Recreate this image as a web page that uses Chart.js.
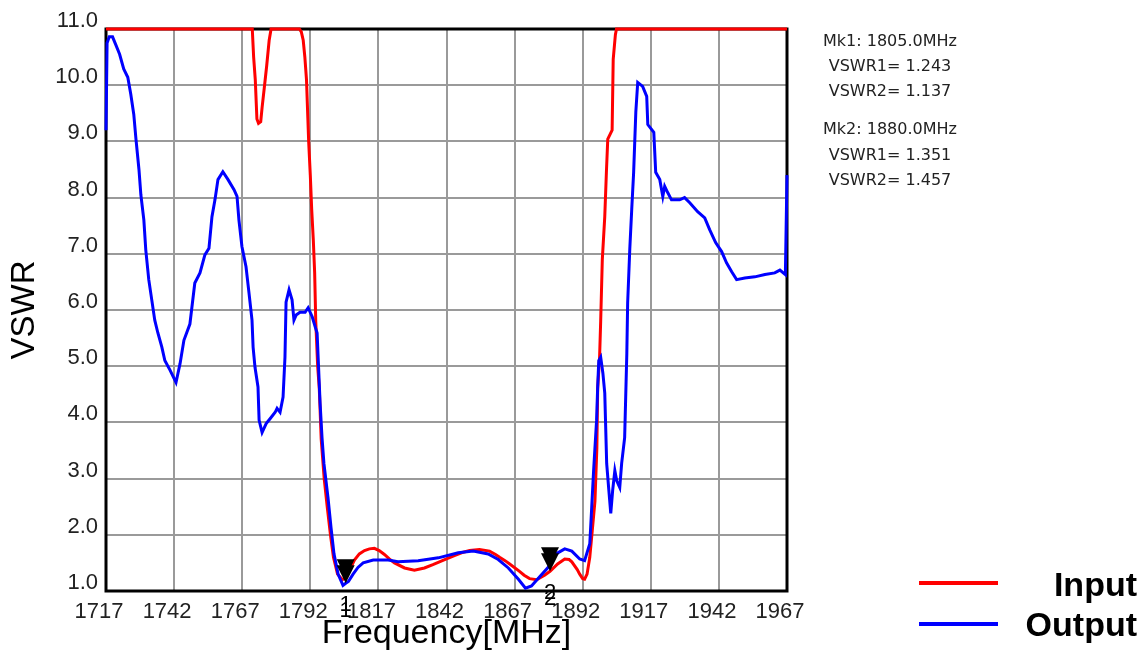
<!DOCTYPE html>
<html>
<head>
<meta charset="utf-8">
<title>VSWR</title>
<script src="https://cdn.jsdelivr.net/npm/chart.js@4.4.1/dist/chart.umd.min.js"></script>
<style>
  html, body { margin: 0; padding: 0; background: #fff; }
  #wrap { position: relative; width: 1148px; height: 651px; overflow: hidden; }
  #chart { position: absolute; left: 0; top: 0; }
  .mk { position: absolute; left: 790px; width: 200px; text-align: center;
        font-family: "DejaVu Sans", sans-serif; font-size: 16px; line-height: 20px; color: #222; white-space: nowrap; }
  .lg-line { position: absolute; left: 919px; width: 79px; height: 4px; }
  .lg-text { position: absolute; right: 11px; font-family: "Liberation Sans", Arial, sans-serif;
             font-weight: bold; font-size: 34px; line-height: 38px; color: #000; }
</style>
</head>
<body>
<div id="wrap">
  <canvas id="chart" width="1148" height="651"></canvas>
  <div id="readout"></div>
  <div class="lg-line" style="top:581px;background:#ff0000"></div>
  <div class="lg-text" style="top:565px">Input</div>
  <div class="lg-line" style="top:622px;background:#0000ff"></div>
  <div class="lg-text" style="top:605px">Output</div>
</div>
<script>
// --- datos ---
const freqIn = [1717, 1770.7, 1771.2, 1771.8, 1772.4, 1773.0, 1773.8, 1774.3, 1775.1, 1776.0, 1776.9, 1777.6,
  1788.0, 1788.7, 1789.4, 1790.0, 1790.6, 1791.4, 1792.0, 1792.5, 1793.1, 1793.6, 1794.0, 1794.7, 1795.3,
  1796.0, 1797.1, 1798.2, 1799.4, 1800.5, 1802.0, 1803.8, 1805, 1806.5, 1808.2, 1810.0, 1811.9, 1813.7,
  1815.5, 1817.3, 1819.2, 1821.0, 1822.9, 1826.6, 1830.2, 1833.9, 1837.0, 1839.4, 1842.0, 1844.9, 1847.5,
  1850.5, 1854.1, 1857.8, 1860.0, 1861.5, 1863.5, 1865.2, 1868.8, 1870.5, 1872.5, 1875.1, 1878.0, 1880,
  1882.8, 1885.4, 1887.0, 1888.0, 1890.0, 1890.9, 1892.0, 1892.7, 1893.6, 1894.6, 1895.5, 1896.5, 1897.2,
  1897.5, 1898.2, 1898.6, 1899.2, 1900.1, 1900.7, 1901.2, 1902.0, 1902.8, 1903.2, 1904.0, 1904.4, 1967];
const vswrIn = [11, 11, 10.5, 10.1, 9.4, 9.32, 9.35, 9.6, 9.95, 10.35, 10.8, 11,
  11, 10.95, 10.8, 10.5, 10.1, 9.0, 8.4, 7.8, 7.25, 6.66, 5.8, 5.0, 4.6,
  3.7, 3.0, 2.5, 2.0, 1.6, 1.3, 1.2, 1.243, 1.38, 1.55, 1.66, 1.72, 1.75,
  1.76, 1.72, 1.65, 1.57, 1.5, 1.41, 1.37, 1.41, 1.47, 1.52, 1.57, 1.63, 1.68,
  1.72, 1.74, 1.71, 1.65, 1.6, 1.54, 1.48, 1.35, 1.28, 1.22, 1.2, 1.28, 1.351,
  1.48, 1.57, 1.56, 1.52, 1.38, 1.3, 1.22, 1.21, 1.3, 1.6, 2.07, 2.6, 3.55,
  4.6, 5.16, 5.8, 6.9, 7.66, 8.45, 9.04, 9.12, 9.2, 10.46, 10.9, 11, 11];

const freqOut = [1717, 1717.4, 1718.2, 1719.4, 1720.5, 1722.0, 1723.5, 1725.0, 1726.1, 1727.2, 1728.0, 1729.1,
  1729.8, 1730.9, 1731.6, 1732.7, 1733.8, 1734.9, 1736.0, 1737.5, 1738.6, 1740.5, 1742.7, 1744.2, 1745.6,
  1747.8, 1749.6, 1751.5, 1753.3, 1754.8, 1755.9, 1757.0, 1758.1, 1759.9, 1761.8, 1764.0, 1765.1, 1765.8,
  1766.9, 1768.4, 1769.5, 1770.6, 1771.0, 1771.7, 1772.8, 1773.2, 1774.3, 1775.8, 1777.3, 1779.1, 1779.8,
  1780.9, 1782.0, 1782.7, 1783.1, 1784.2, 1785.3, 1786.0, 1786.8, 1788.2, 1790.1, 1791.2, 1792.7, 1793.8,
  1794.5, 1795.6, 1796.3, 1797.0, 1798.5, 1799.6, 1800.7, 1802.2, 1804.0, 1805, 1806.0, 1807.7, 1809.5,
  1811.4, 1815.1, 1820.6, 1824.2, 1831.6, 1839.0, 1846.3, 1851.8, 1857.3, 1861.0, 1864.7, 1868.4, 1871.0,
  1873.2, 1875.8, 1880, 1882.2, 1885.4, 1888.0, 1890.9, 1892.7, 1894.6, 1895.3, 1896.0, 1897.1, 1897.5,
  1897.9, 1898.6, 1899.4, 1900.1, 1900.8, 1901.6, 1902.3, 1903.0, 1903.8, 1904.5, 1905.6, 1906.3, 1907.4,
  1908.2, 1908.5, 1909.3, 1910.0, 1910.7, 1911.5, 1911.8, 1912.2, 1914.0, 1915.5, 1915.9, 1918.1, 1918.8,
  1920.3, 1921.4, 1922.1, 1923.2, 1924.6, 1927.6, 1929.4, 1931.3, 1934.2, 1936.8, 1938.6, 1940.8, 1943.0,
  1944.8, 1946.7, 1948.5, 1951.5, 1955.2, 1958.9, 1962.5, 1964.4, 1966.4, 1967];
const vswrOut = [9.2, 10.75, 10.86, 10.86, 10.73, 10.55, 10.29, 10.14, 9.84, 9.48, 9.04, 8.5,
  8.05, 7.6, 7.07, 6.54, 6.18, 5.82, 5.6, 5.34, 5.1, 4.93, 4.71, 5.05, 5.46,
  5.75, 6.48, 6.66, 6.98, 7.1, 7.66, 7.96, 8.32, 8.46, 8.32, 8.14, 8.02, 7.6,
  7.13, 6.77, 6.3, 5.82, 5.34, 4.98, 4.63, 4.04, 3.82, 3.98, 4.07, 4.18, 4.25,
  4.18, 4.45, 5.16, 6.14, 6.36, 6.18, 5.82, 5.91, 5.96, 5.96, 6.04, 5.88, 5.7,
  5.59, 4.34, 3.73, 3.27, 2.66, 2.13, 1.66, 1.3, 1.1, 1.137, 1.17, 1.3, 1.42,
  1.5, 1.55, 1.55, 1.52, 1.54, 1.59, 1.68, 1.71, 1.66, 1.56, 1.41, 1.21, 1.05,
  1.09, 1.23, 1.457, 1.66, 1.75, 1.71, 1.57, 1.54, 1.84, 2.48, 3.14, 4.04, 4.63,
  5.1, 5.16, 4.88, 4.52, 3.27, 2.79, 2.38, 2.79, 3.14, 2.96, 2.84, 3.27, 3.73,
  5.23, 6.12, 7.1, 7.79, 8.45, 9.52, 9.75, 10.05, 9.98, 9.8, 9.3, 9.16, 8.45,
  8.32, 8.02, 8.2, 8.09, 7.96, 7.96, 8.0, 7.91, 7.75, 7.64, 7.43, 7.2, 7.04,
  6.84, 6.68, 6.54, 6.57, 6.59, 6.63, 6.66, 6.71, 6.63, 8.4];

// marcadores
const markerFreqs = [1805, 1880];
const markerInput = [1.243, 1.351];
const markerOutput = [1.137, 1.457];

const xMin = 1717, xMax = 1967, xStep = 25;
const yMin = 1, yMax = 11, yStep = 1;

const toXY = (xs, ys) => xs.map((x, i) => ({ x: x, y: ys[i] }));

// --- lectura de marcadores (texto) ---
const readout = document.getElementById('readout');
const rowTops = [[31, 56, 81], [119, 145, 170]];
markerFreqs.forEach((f, i) => {
  const rows = [
    `Mk${i + 1}: ${f.toFixed(1)}MHz`,
    `VSWR1= ${markerInput[i].toFixed(3)}`,
    `VSWR2= ${markerOutput[i].toFixed(3)}`
  ];
  rows.forEach((t, j) => {
    const d = document.createElement('div');
    d.className = 'mk';
    d.style.top = rowTops[i][j] + 'px';
    d.textContent = t;
    readout.appendChild(d);
  });
});

// marco negro del area de grafico (debajo de las curvas)
const framePlugin = {
  id: 'frame',
  beforeDatasetsDraw(chart) {
    const { ctx, chartArea: a } = chart;
    ctx.save();
    ctx.strokeStyle = '#000';
    ctx.lineWidth = 3;
    ctx.strokeRect(a.left, a.top, a.right - a.left, a.bottom - a.top);
    ctx.restore();
  }
};

// triangulos de marcador + numeros
const markerPlugin = {
  id: 'markers',
  afterDatasetsDraw(chart) {
    const { ctx, scales } = chart;
    ctx.save();
    ctx.fillStyle = '#000';
    ctx.font = '22px "Liberation Sans", Arial, sans-serif';
    ctx.textAlign = 'center';
    ctx.textBaseline = 'middle';
    markerFreqs.forEach((f, i) => {
      const px = scales.x.getPixelForValue(f);
      [markerInput[i], markerOutput[i]].forEach(v => {
        const py = scales.y.getPixelForValue(v);
        ctx.beginPath();
        ctx.moveTo(px, py);
        ctx.lineTo(px - 9, py - 18);
        ctx.lineTo(px + 9, py - 18);
        ctx.closePath();
        ctx.fill();
        ctx.fillText(String(i + 1), px, py + 28);
      });
    });
    ctx.restore();
  }
};

const tickFont = { family: '"Liberation Sans", Arial, sans-serif', size: 22 };

new Chart(document.getElementById('chart').getContext('2d'), {
  type: 'scatter',
  data: {
    datasets: [
      {
        label: 'Input',
        data: toXY(freqIn, vswrIn),
        showLine: true,
        borderColor: '#ff0000',
        borderWidth: 3,
        pointRadius: 0,
        tension: 0,
        clip: false,
        order: 1
      },
      {
        label: 'Output',
        data: toXY(freqOut, vswrOut),
        showLine: true,
        borderColor: '#0000ff',
        borderWidth: 3,
        pointRadius: 0,
        tension: 0,
        clip: false,
        order: 0
      }
    ]
  },
  options: {
    responsive: false,
    animation: false,
    events: [],
    layout: { padding: { left: 0, top: 29, right: 361, bottom: 0 } },
    plugins: {
      legend: { display: false },
      tooltip: { enabled: false }
    },
    scales: {
      x: {
        type: 'linear',
        min: xMin,
        max: xMax,
        afterFit: s => { s.height = 60; },
        border: { display: false },
        grid: { color: '#9a9a9a', lineWidth: 2, drawTicks: false },
        ticks: {
          stepSize: xStep,
          autoSkip: false,
          maxRotation: 0,
          padding: 8,
          labelOffset: -7,
          color: '#222',
          font: tickFont,
          callback: v => String(Math.round(v))
        },
        title: {
          display: true,
          text: 'Frequency[MHz]',
          color: '#000',
          font: { family: '"Liberation Sans", Arial, sans-serif', size: 34, lineHeight: 1 },
          padding: { top: 0, bottom: 0 }
        }
      },
      y: {
        type: 'linear',
        min: yMin,
        max: yMax,
        afterFit: s => { s.width = 106; },
        border: { display: false },
        grid: { color: '#9a9a9a', lineWidth: 2, drawTicks: false },
        ticks: {
          stepSize: yStep,
          autoSkip: false,
          padding: 8,
          labelOffset: -8,
          color: '#222',
          font: tickFont,
          callback: v => v.toFixed(1)
        },
        title: {
          display: true,
          text: 'VSWR',
          color: '#000',
          font: { family: '"Liberation Sans", Arial, sans-serif', size: 33, lineHeight: 1 },
          padding: { top: 8, bottom: 0 }
        }
      }
    }
  },
  plugins: [framePlugin, markerPlugin]
});
</script>
</body>
</html>
